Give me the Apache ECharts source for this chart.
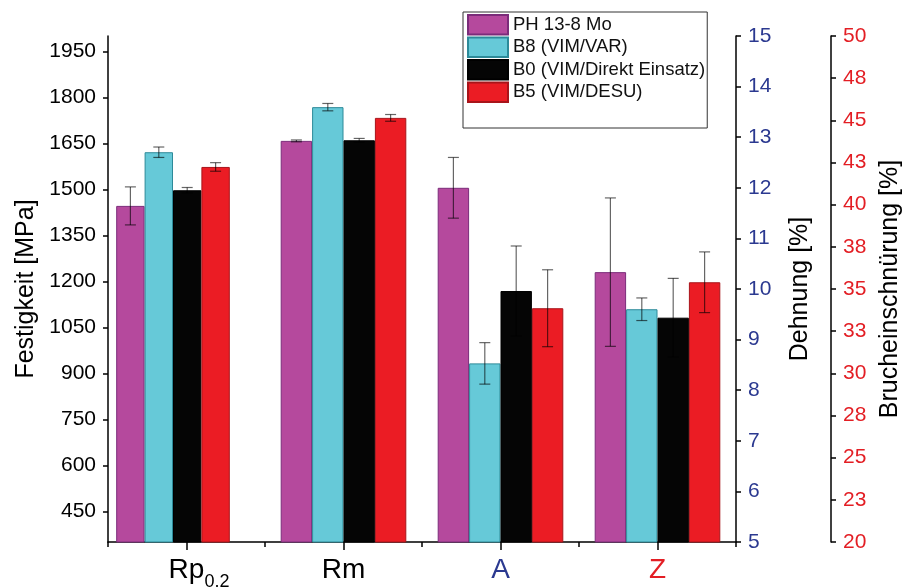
<!DOCTYPE html>
<html><head><meta charset="utf-8">
<script src="https://cdn.jsdelivr.net/npm/echarts@6/dist/echarts.min.js"></script>
<style>html,body{margin:0;padding:0;background:#fff}#c{width:905px;height:588px}</style>
</head><body><div id="c"></div>
<script>
const categories = ['Rp0.2', 'Rm', 'A', 'Z'];
const seriesNames = ['PH 13-8 Mo', 'B8 (VIM/VAR)', 'B0 (VIM/Direkt Einsatz)', 'B5 (VIM/DESU)'];
const rpValues = [1446, 1621, 1497, 1573];
const rpErrors = [62, 17, 9, 14];
const rmValues = [1658, 1768, 1660, 1733];
const rmErrors = [3, 12, 6, 11];
const aValues = [12.0, 8.53, 9.96, 9.62];
const aErrors = [0.6, 0.41, 0.89, 0.76];
const zValues = [36.0, 33.8, 33.3, 35.4];
const zErrors = [4.4, 0.67, 2.33, 1.8];
const strengthTicks = [450, 600, 750, 900, 1050, 1200, 1350, 1500, 1650, 1800, 1950];
const reductionTicks = [20, 22.5, 25, 27.5, 30, 32.5, 35, 37.5, 40, 42.5, 45, 47.5, 50];
const reductionTickLabels = ['20', '23', '25', '28', '30', '33', '35', '38', '40', '43', '45', '48', '50'];

const colors = ['#B5499D', '#66C9D8', '#050505', '#EB1C24'];
const borders = ['#7B2C7A', '#2D8A99', '#000000', '#A8141A'];
const FONT = "'Liberation Sans', Arial, sans-serif";
const BLUE = '#2B3990';
const RED = '#E31E24';
const BW_RP = 28.4, BW = 31.4;

const axisLineStyle = { color: '#000', width: 1.5 };

// [value array, error array, xAxisIndex, yAxisIndex, category index, bar width]
const groups = [
  [rpValues, rpErrors, 3, 3, 0, BW_RP],
  [rmValues, rmErrors, 0, 0, 1, BW],
  [aValues, aErrors, 1, 1, 2, BW],
  [zValues, zErrors, 2, 2, 3, BW]
];

const series = [];
groups.forEach(([vals, errs, xi, yi, ci, bw]) => {
  seriesNames.forEach((name, k) => {
    series.push({
      type: 'bar', name: name, xAxisIndex: xi, yAxisIndex: yi,
      barWidth: bw, barGap: 0,
      itemStyle: { color: colors[k], borderColor: borders[k], borderWidth: 1 },
      data: categories.map((c, j) => j === ci ? vals[k] : '-'),
      z: 2
    });
  });
});
groups.forEach(([vals, errs, xi, yi, ci, bw]) => {
  series.push({
    type: 'custom', name: 'err', xAxisIndex: xi, yAxisIndex: yi, z: 5,
    encode: { x: 0, y: 1 },
    data: seriesNames.map((n, k) => [ci, vals[k], errs[k], k]),
    renderItem: function (params, api) {
      const cat = api.value(0), v = api.value(1), e = api.value(2), k = api.value(3);
      const top = api.coord([cat, v + e]);
      const bot = api.coord([cat, v - e]);
      const x = top[0] + (k - 1.5) * bw;
      const cap = 5.5;
      const st = { stroke: 'rgba(0,0,0,0.6)', lineWidth: 1.2 };
      return { type: 'group', children: [
        { type: 'line', shape: { x1: x, y1: top[1], x2: x, y2: bot[1] }, style: st },
        { type: 'line', shape: { x1: x - cap, y1: top[1], x2: x + cap, y2: top[1] }, style: st },
        { type: 'line', shape: { x1: x - cap, y1: bot[1], x2: x + cap, y2: bot[1] }, style: st }
      ]};
    }
  });
});

function catLabel(v) {
  if (v === 'Rp0.2') return '{gap|}{a|' + v.slice(0, 2) + '}{s|' + v.slice(2) + '}';
  if (v === 'A') return '{b|' + v + '}';
  if (v === 'Z') return '{r|' + v + '}';
  return '{a|' + v + '}';
}

const option = {
  animation: false,
  backgroundColor: '#fff',
  textStyle: { fontFamily: FONT },
  grid: [
    { left: 108, right: 169, top: 36, bottom: 46, containLabel: false, outerBoundsMode: 'none' },
    { left: 94.5, right: 182.5, top: 36, bottom: 46, containLabel: false, outerBoundsMode: 'none' }
  ],
  legend: {
    data: seriesNames, orient: 'vertical', left: 463, top: 12,
    padding: [2, 2, 25, 4], itemWidth: 40, itemHeight: 19.5, itemGap: 1,
    borderColor: '#333', borderWidth: 1, backgroundColor: '#fff',
    icon: 'rect',
    textStyle: { fontFamily: FONT, fontSize: 18.5, color: '#111' }
  },
  xAxis: [
    { type: 'category', gridIndex: 0, position: 'bottom', data: categories,
      axisLine: { show: true, lineStyle: axisLineStyle },
      axisTick: { show: true, alignWithLabel: true, interval: 0, length: 8, lineStyle: axisLineStyle },
      axisLabel: { interval: 0, margin: 14, formatter: catLabel, fontFamily: FONT,
        rich: {
          gap: { width: 25, fontSize: 28 },
          a: { fontSize: 28, color: '#000', fontFamily: FONT, verticalAlign: 'bottom', padding: [0, 0, 7, 0] },
          s: { fontSize: 18, color: '#000', fontFamily: FONT, verticalAlign: 'bottom' },
          b: { fontSize: 28, color: BLUE, fontFamily: FONT, verticalAlign: 'bottom', padding: [0, 0, 7, 0] },
          r: { fontSize: 28, color: RED, fontFamily: FONT, verticalAlign: 'bottom', padding: [0, 0, 7, 0] }
        } },
      splitLine: { show: false } },
    { type: 'category', gridIndex: 0, position: 'bottom', data: categories,
      axisLine: { show: false },
      axisTick: { show: true, alignWithLabel: false, interval: 0, length: 5, lineStyle: axisLineStyle },
      axisLabel: { show: false }, splitLine: { show: false } },
    { type: 'category', gridIndex: 0, position: 'bottom', data: categories, show: false },
    { type: 'category', gridIndex: 1, position: 'bottom', data: categories, show: false }
  ],
  yAxis: [
    { type: 'value', gridIndex: 0, position: 'left', min: 350, max: 2000,
      name: 'Festigkeit [MPa]', nameLocation: 'middle', nameGap: 57,
      nameTextStyle: { fontSize: 25, color: '#000', fontFamily: FONT },
      axisLine: { show: true, lineStyle: axisLineStyle },
      axisTick: { show: true, length: 5, customValues: strengthTicks, lineStyle: axisLineStyle },
      axisLabel: { customValues: strengthTicks, fontSize: 21, color: '#000', margin: 12, fontFamily: FONT,
        formatter: function (v) { return String(v); } },
      splitLine: { show: false } },
    { type: 'value', gridIndex: 0, position: 'right', min: 5, max: 15, interval: 1,
      name: 'Dehnung [%]', nameLocation: 'middle', nameGap: 52,
      nameTextStyle: { fontSize: 25, color: '#000', fontFamily: FONT },
      axisLine: { show: true, lineStyle: axisLineStyle },
      axisTick: { show: true, length: 5, lineStyle: axisLineStyle },
      axisLabel: { fontSize: 21, color: BLUE, margin: 12, fontFamily: FONT, showMinLabel: true, showMaxLabel: true },
      splitLine: { show: false } },
    { type: 'value', gridIndex: 0, position: 'right', offset: 95, min: 20, max: 50,
      name: 'Brucheinschnürung [%]', nameLocation: 'middle', nameGap: 47,
      nameTextStyle: { fontSize: 25, color: '#000', fontFamily: FONT },
      axisLine: { show: true, lineStyle: axisLineStyle },
      axisTick: { show: true, length: 5, customValues: reductionTicks, lineStyle: axisLineStyle },
      axisLabel: { customValues: reductionTicks, fontSize: 21, color: RED, margin: 12, fontFamily: FONT,
        formatter: function (v) {
          const i = reductionTicks.findIndex(t => Math.abs(t - v) < 1e-6);
          return i >= 0 ? reductionTickLabels[i] : '';
        } },
      splitLine: { show: false } },
    { type: 'value', gridIndex: 1, min: 350, max: 2000, show: false }
  ],
  series: series
};

const chart = echarts.init(document.getElementById('c'), null, { renderer: 'canvas' });
chart.setOption(option);
</script>
</body></html>
